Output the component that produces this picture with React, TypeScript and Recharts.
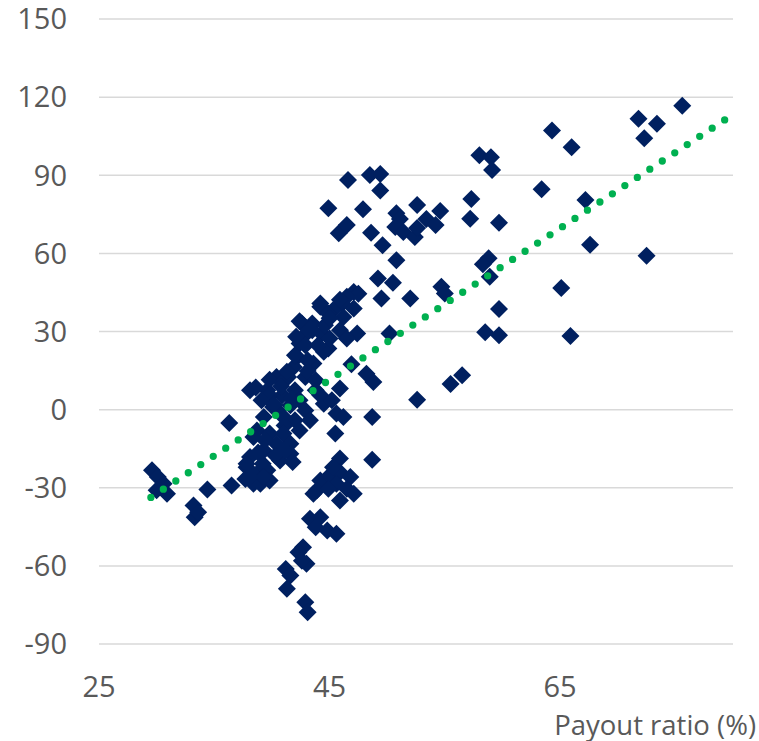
import { ScatterChart, Scatter, XAxis, YAxis, CartesianGrid, Label } from 'recharts'

// Payout ratio (%) for each company
const payout = [
    75.6, 71.8, 73.4, 72.3, 64.3, 66.0, 63.4, 67.2, 67.6, 72.5,
    65.1, 65.9, 58.0, 59.0, 59.1, 57.3, 57.2, 59.7, 58.8, 58.3,
    58.9, 54.7, 55.0, 59.7, 58.5, 59.7, 56.5, 55.5, 52.6, 50.8,
    51.1, 50.7, 51.4, 52.4, 52.6, 53.4, 54.2, 54.6, 52.6, 49.6,
    50.8, 49.2, 50.5, 49.5, 52.0, 50.2, 46.6, 48.5, 49.4, 49.4,
    44.9, 47.9, 45.8, 46.5, 48.6, 47.1, 47.5, 46.5, 46.1, 44.2,
    45.3, 47.1, 47.4, 46.2, 44.9, 44.3, 45.9, 44.2, 44.9, 42.6,
    43.5, 43.0, 45.9, 46.5, 45.0, 44.5, 42.4, 42.2, 41.9, 43.6,
    42.9, 41.4, 40.4, 39.8, 38.1, 39.6, 45.9, 46.9, 43.8, 42.4,
    42.9, 41.1, 42.0, 40.9, 42.4, 41.6, 42.9, 40.5, 42.0, 43.3,
    41.1, 42.4, 39.8, 39.1, 43.8, 44.2, 43.1, 44.0, 42.0, 43.5,
    44.6, 45.0, 40.1, 39.3, 41.0, 38.7, 39.8, 41.0, 41.6, 40.4,
    39.3, 38.1, 37.8, 38.7, 39.6, 38.4, 41.6, 40.7, 39.4, 40.3,
    38.8, 41.1, 41.8, 39.2, 37.7, 39.0, 39.8, 39.3, 44.5, 45.6,
    46.2, 45.5, 45.9, 44.2, 45.0, 45.9, 46.8, 43.9, 45.6, 46.5,
    45.9, 47.1, 44.9, 48.2, 48.8, 45.2, 48.7, 48.7, 45.3, 43.6,
    43.3, 44.2, 43.8, 44.8, 45.6, 42.7, 42.3, 43.0, 42.6, 41.2,
    41.6, 41.3, 42.9, 43.1, 36.3, 29.6, 30.1, 30.6, 30.9, 30.0,
    33.2, 33.3, 33.6, 34.4, 36.5, 37.8, 38.1, 38.4, 38.6, 40.8,
    41.7, 40.2, 41.3, 43.1, 42.1,
]

// Matching values on the vertical axis
const change = [
    116.7, 111.7, 109.8, 104.2, 107.2, 100.8, 84.6, 80.5, 63.3, 59.1,
    46.7, 28.3, 97.7, 96.9, 92.0, 80.9, 73.3, 71.8, 58.1, 55.8,
    51.0, 47.2, 44.6, 38.6, 29.7, 28.6, 13.2, 9.8, 3.8, 75.4,
    73.2, 70.1, 68.2, 66.3, 78.6, 73.2, 70.9, 76.3, 69.7, 63.1,
    57.4, 50.4, 48.7, 42.7, 42.7, 29.2, 88.2, 90.1, 90.5, 84.1,
    77.3, 76.9, 67.7, 70.9, 67.9, 45.2, 44.5, 43.3, 40.8, 40.8,
    38.2, 38.8, 29.2, 35.6, 23.5, 29.2, 42.2, 39.5, 36.9, 33.1,
    33.1, 29.2, 30.5, 27.3, 27.3, 22.2, 25.4, 20.2, 16.4, 17.7,
    12.5, 12.5, 12.5, 11.5, 7.4, 7.4, 8.1, 17.4, 7.4, 33.9,
    24.7, 11.3, 7.4, 5.5, 3.6, 1.7, -0.3, -0.3, -4.1, -4.1,
    -6.1, -8.0, 5.5, 3.6, 11.3, 5.5, 19.0, 24.7, 20.9, 30.5,
    32.4, 35.1, 1.0, -2.8, -2.8, -8.0, -9.2, -9.2, -13.1, -13.1,
    -15.7, -18.2, -22.1, -24.6, -23.3, -28.5, -16.9, -19.5, -11.8, -17.6,
    -16.5, -15.5, -20.1, -20.8, -26.6, -28.5, -27.2, -25.9, 2.3, -1.5,
    -2.8, -9.2, -18.8, -27.2, -25.3, -24.0, -25.9, -31.0, -28.5, -30.4,
    -34.9, -32.3, -30.4, 13.8, 10.6, 3.6, -2.8, -19.2, -22.1, -32.3,
    -41.9, -41.3, -45.2, -46.4, -47.7, -52.8, -54.8, -59.2, -58.0, -61.2,
    -63.7, -68.8, -74.0, -77.8, -5.1, -23.3, -25.9, -28.5, -32.3, -31.0,
    -36.8, -41.3, -39.4, -30.7, -29.1, -20.8, -25.9, -10.5, 8.5, 9.0,
    4.2, 2.0, 14.5, 14.8, 28.0,
]

// Linear trend end points
const trendX = [29.5, 79.3]
const trendY = [-33.7, 111.3]

const xTicks = [25, 45, 65]
const yTicks = [-90, -60, -30, 0, 30, 60, 90, 120, 150]

const NAVY = '#002060'
const GREEN = '#00B050'
const TEXT = '#595959'

const points = payout.map((x, i) => ({ x, y: change[i] }))
const trend = trendX.map((x, i) => ({ x, y: trendY[i] }))

// filled square rotated 45 degrees
function Diamond(props: any) {
    const { cx, cy } = props
    const r = 9
    return (
        <polygon
            points={`${cx},${cy - r} ${cx + r},${cy} ${cx},${cy + r} ${cx - r},${cy}`}
            fill={NAVY}
        />
    )
}

export default function App() {
    return (
        <div style={{ position: 'absolute', left: 0, top: 0, fontFamily: '"Open Sans", sans-serif' }}>
            <ScatterChart
                width={759}
                height={741}
                margin={{ top: 19, right: 26, bottom: 0, left: 0 }}
            >
                <CartesianGrid vertical={false} stroke="#D9D9D9" strokeWidth={1.5} />
                <XAxis
                    type="number"
                    dataKey="x"
                    domain={[25, 80]}
                    ticks={xTicks}
                    height={97}
                    axisLine={false}
                    tickLine={false}
                    tickMargin={26}
                    tick={{ fill: TEXT, fontSize: 29 }}
                >
                    <Label
                        content={({ viewBox }: any) => (
                            <text
                                x={viewBox.x + viewBox.width + 23}
                                y={viewBox.y + viewBox.height - 6}
                                textAnchor="end"
                                fill={TEXT}
                                fontSize={27.5}
                            >
                                Payout ratio (%)
                            </text>
                        )}
                    />
                </XAxis>
                <YAxis
                    type="number"
                    dataKey="y"
                    domain={[-90, 150]}
                    ticks={yTicks}
                    width={99}
                    axisLine={false}
                    tickLine={false}
                    tickMargin={26}
                    tick={{ fill: TEXT, fontSize: 29 }}
                />
                <Scatter data={points} shape={Diamond} isAnimationActive={false} />
                <Scatter
                    data={trend}
                    fill={GREEN}
                    line={{
                        stroke: GREEN,
                        strokeWidth: 7.3,
                        strokeDasharray: '0 14.93',
                        strokeLinecap: 'round',
                    }}
                    shape={() => <g />}
                    isAnimationActive={false}
                />
            </ScatterChart>
        </div>
    )
}
